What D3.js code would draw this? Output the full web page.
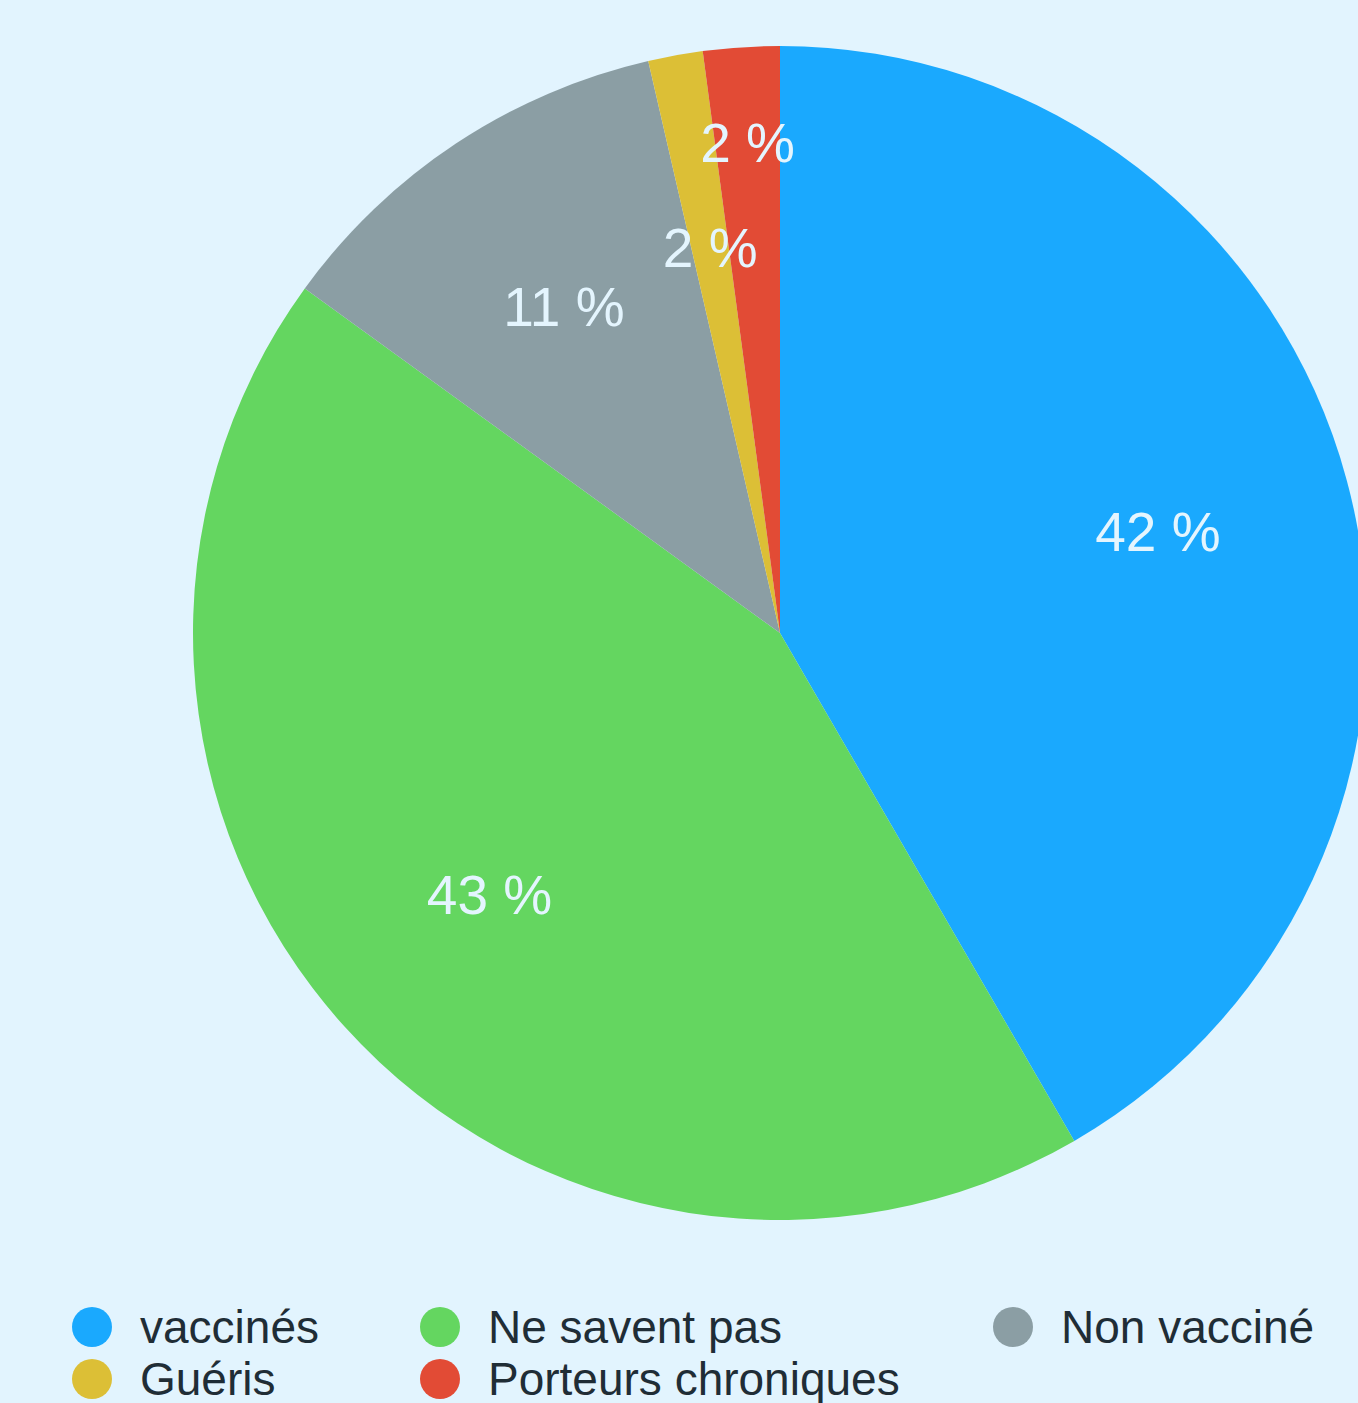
<!DOCTYPE html>
<html>
<head>
<meta charset="utf-8">
<script src="https://cdn.jsdelivr.net/npm/d3@7"></script>
<style>
  html, body { margin: 0; padding: 0; background: #e2f4fe; overflow: hidden; }
  svg { display: block; }
</style>
</head>
<body>
<svg id="chart"></svg>
<script>
// pie data
var categories = ["vaccinés", "Ne savent pas", "Non vacciné", "Guéris", "Porteurs chroniques"];
var values = [41.6, 43.3, 11.4, 1.5, 2.1];
var colors = ["#1aa9fe", "#64d660", "#8b9ea4", "#dcbf36", "#e24b35"];

var width = 1358, height = 1403;
var cx = 780, cy = 633, radius = 587;

var svg = d3.select("#chart").attr("width", width).attr("height", height);

var data = categories.map(function(c, i) { return {name: c, value: values[i], color: colors[i]}; });

var pie = d3.pie().sort(null).value(function(d) { return d.value; });
var arc = d3.arc().innerRadius(0).outerRadius(radius);

var arcs = pie(data);
var total = d3.sum(values);

var g = svg.append("g").attr("transform", "translate(" + cx + "," + cy + ")");

g.selectAll("path")
    .data(arcs)
  .enter().append("path")
    .attr("d", arc)
    .attr("fill", function(d) { return d.data.color; });

// labels at 2/3 radius, pushed outward if they collide with the previous one
var labelPos = [];
arcs.forEach(function(d, i) {
  var r = radius * 2 / 3;
  var a = (d.startAngle + d.endAngle) / 2;
  var p = [Math.sin(a) * r, -Math.cos(a) * r];
  if (i > 0) {
    var q = labelPos[i - 1];
    while (Math.abs(p[0] - q[0]) < 110 && Math.abs(p[1] - q[1]) < 100) {
      r += 20;
      p = [Math.sin(a) * r, -Math.cos(a) * r];
    }
  }
  labelPos.push(p);
});

g.selectAll("text.lbl")
    .data(arcs)
  .enter().append("text")
    .attr("class", "lbl")
    .attr("x", function(d, i) { return labelPos[i][0]; })
    .attr("y", function(d, i) { return labelPos[i][1]; })
    .attr("dy", "0.35em")
    .attr("text-anchor", "middle")
    .attr("font-family", "'Liberation Sans', Arial, sans-serif")
    .attr("font-size", 55)
    .attr("fill", "#e4f5fe")
    .text(function(d) { return Math.round(d.data.value / total * 100) + " %"; });

// legend, 3 columns
var colX = [92, 440, 1013];
var legend = svg.append("g")
    .attr("font-family", "'Liberation Sans', Arial, sans-serif")
    .attr("font-size", 46)
  .selectAll("g")
    .data(data)
  .enter().append("g")
    .attr("transform", function(d, i) { return "translate(" + colX[i % 3] + "," + (1327 + Math.floor(i / 3) * 52) + ")"; });

legend.append("circle")
    .attr("r", 20)
    .attr("fill", function(d) { return d.color; });

legend.append("text")
    .attr("x", 48)
    .attr("dy", "0.35em")
    .attr("fill", "#1f2d36")
    .text(function(d) { return d.name; });
</script>
</body>
</html>
